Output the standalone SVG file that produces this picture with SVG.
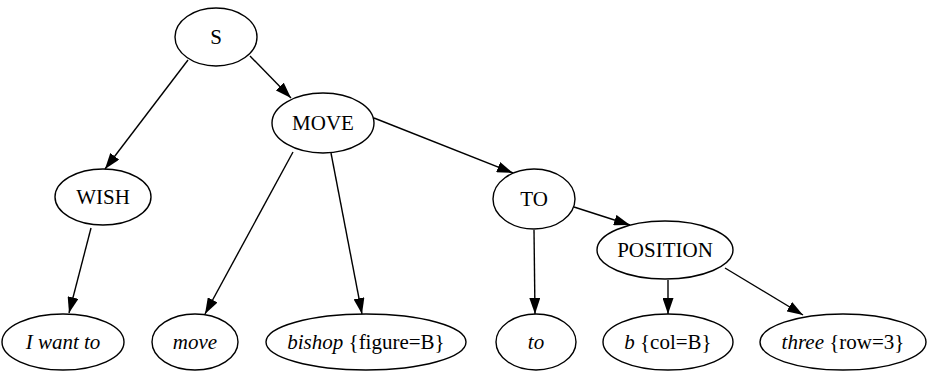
<svg xmlns="http://www.w3.org/2000/svg" width="929" height="372" viewBox="0 0 929 372">
<defs>
<style>
.n ellipse{fill:none;stroke:#000;stroke-width:1.4}
.n text{font-size:21px;text-anchor:middle;fill:#000}
.i{font-style:italic}
#edges line{stroke:#000;stroke-width:1.4;marker-end:url(#ah)}
</style>
<marker id="ah" viewBox="0 0 16 11" refX="16" refY="5.5" markerWidth="16" markerHeight="11" markerUnits="userSpaceOnUse" orient="auto">
<path d="M0,0 L16,5.5 L0,11 z" fill="#000"/>
</marker>
</defs>
<rect width="929" height="372" fill="#fff"/>
<g id="edges">
<line x1="188" y1="60" x2="105" y2="169"/>
<line x1="250" y1="56" x2="291" y2="98"/>
<line x1="374" y1="118" x2="513" y2="173"/>
<line x1="574" y1="207" x2="630" y2="225"/>
<line x1="91" y1="228" x2="69" y2="313"/>
<line x1="293" y1="152" x2="205" y2="314"/>
<line x1="331" y1="153" x2="362" y2="314"/>
<line x1="534" y1="230" x2="535" y2="314"/>
<line x1="668" y1="280" x2="668" y2="314"/>
<line x1="725" y1="268" x2="803" y2="315"/>
</g>
<g font-family="Liberation Serif, serif">
<g id="S" class="n"><ellipse cx="216" cy="37" rx="41" ry="29"/><text x="216" y="44">S</text></g>
<g id="MOVE" class="n"><ellipse cx="323" cy="123" rx="51" ry="30"/><text x="323" y="130">MOVE</text></g>
<g id="WISH" class="n"><ellipse cx="103" cy="197" rx="48" ry="28"/><text x="103" y="204">WISH</text></g>
<g id="TO" class="n"><ellipse cx="534" cy="199" rx="41" ry="30"/><text x="534" y="206">TO</text></g>
<g id="POSITION" class="n"><ellipse cx="665" cy="250" rx="68" ry="29"/><text x="665" y="257">POSITION</text></g>
<g id="iwantto" class="n"><ellipse cx="63" cy="342" rx="61" ry="28"/><text x="63" y="349" class="i">I want to</text></g>
<g id="move" class="n"><ellipse cx="195" cy="342" rx="43" ry="28"/><text x="195" y="349" class="i">move</text></g>
<g id="bishop" class="n"><ellipse cx="366" cy="342" rx="100" ry="28"/><text x="366" y="349"><tspan class="i">bishop</tspan> {figure=B}</text></g>
<g id="to" class="n"><ellipse cx="536" cy="342" rx="40" ry="28"/><text x="536" y="349" class="i">to</text></g>
<g id="b" class="n"><ellipse cx="668" cy="342" rx="65" ry="28"/><text x="668" y="349"><tspan class="i">b</tspan> {col=B}</text></g>
<g id="three" class="n"><ellipse cx="843" cy="342" rx="83" ry="28"/><text x="843" y="349"><tspan class="i">three</tspan> {row=3}</text></g>
</g>
</svg>
